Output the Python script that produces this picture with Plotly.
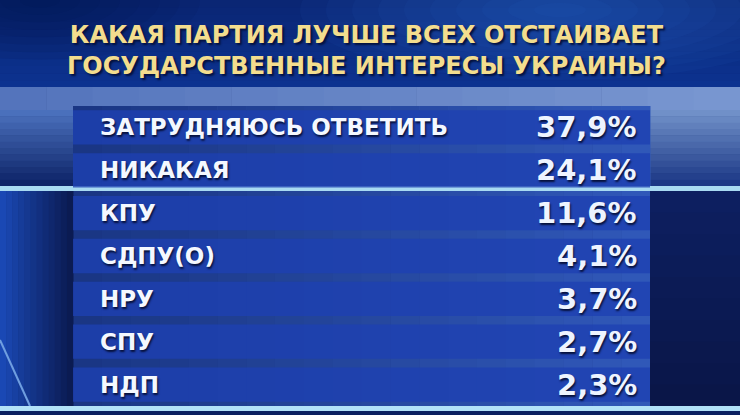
import plotly.graph_objects as go

# poll question and answers
title = "КАКАЯ ПАРТИЯ ЛУЧШЕ ВСЕХ ОТСТАИВАЕТ<br>ГОСУДАРСТВЕННЫЕ ИНТЕРЕСЫ УКРАИНЫ?"
answers = ["ЗАТРУДНЯЮСЬ ОТВЕТИТЬ", "НИКАКАЯ", "КПУ", "СДПУ(О)", "НРУ", "СПУ", "НДП"]
percents = [37.9, 24.1, 11.6, 4.1, 3.7, 2.7, 2.3]
value_labels = ["37,9%", "24,1%", "11,6%", "4,1%", "3,7%", "2,7%", "2,3%"]

FONT = "DejaVu Sans, Liberation Sans, Arial"

W, H = 740, 415
ML, MR, MT, MB = 73, 90, 106, 9


def fx(px):
    # page pixel -> paper fraction (x)
    return (px - ML) / (W - ML - MR)


def fy(py):
    # page pixel -> paper fraction (y)
    return (H - MB - py) / (H - MT - MB)


def box(x0, y0, x1, y1, color, opacity=1.0, kind="rect"):
    return dict(type=kind, xref="paper", yref="paper", layer="below",
                x0=fx(x0), x1=fx(x1), y0=fy(y1), y1=fy(y0),
                fillcolor=color, opacity=opacity, line=dict(width=0))


def mix(c1, c2, t):
    a = [int(c1[i:i + 2], 16) for i in (1, 3, 5)]
    b = [int(c2[i:i + 2], 16) for i in (1, 3, 5)]
    return "#%02x%02x%02x" % tuple(round(a[k] + (b[k] - a[k]) * t) for k in range(3))


def vgrad(x0, x1, y0, y1, c0, c1, n=16):
    step = (y1 - y0) / n
    return [box(x0, y0 + i * step, x1, y0 + (i + 1) * step + 0.5,
                mix(c0, c1, i / (n - 1))) for i in range(n)]


def hgrad(x0, x1, y0, y1, c0, c1, n=16):
    step = (x1 - x0) / n
    return [box(x0 + i * step, y0, x0 + (i + 1) * step + 0.5, y1,
                mix(c0, c1, i / (n - 1))) for i in range(n)]


def glow(cx, cy, rx, ry, color, n=10, opacity=0.06):
    # soft blob made of stacked translucent ellipses
    out = []
    for i in range(n):
        k = 1 - i / n
        out.append(box(cx - rx * k, cy - ry * k, cx + rx * k, cy + ry * k,
                       color, opacity, "circle"))
    return out


fig = go.Figure()

# each answer is one full-width table row
fig.add_trace(go.Bar(
    y=answers,
    x=[1] * len(answers),
    orientation="h",
    marker=dict(color="#1e40b2", opacity=0.78, line=dict(width=0)),
    hoverinfo="skip",
    showlegend=False,
))

annotations = []
for name, label in zip(answers, value_labels):
    annotations.append(dict(
        x=0, y=name, xref="x", yref="y", text=name, showarrow=False,
        xanchor="left", xshift=25,
        font=dict(family=FONT, size=23, color="#f4f8ff", weight="bold",
                  shadow="1px 2px 2px #06103a"),
    ))
    annotations.append(dict(
        x=1, y=name, xref="x", yref="y", text=label, showarrow=False,
        xanchor="right", xshift=-11,
        font=dict(family=FONT, size=29, color="#eef4ff", weight="bold",
                  shadow="1px 2px 2px #06103a"),
    ))

annotations.append(dict(
    x=fx(366), y=fy(51), xref="paper", yref="paper", text=title,
    showarrow=False, xanchor="center", yanchor="middle", borderpad=0,
    font=dict(family=FONT, size=24, color="#f3dd8e", weight="bold",
              shadow="2px 2px 2px #04123f"),
))

# background decoration
shapes = []
shapes += vgrad(0, 740, 0, 88, "#0a2674", "#0c3290", 12)
shapes += glow(560, 10, 260, 70, "#3a78e0", 10, 0.06)
shapes += glow(40, 0, 160, 60, "#04114a", 8, 0.09)
shapes += hgrad(0, 740, 87, 110, "#5474bc", "#7896d0", 16)
shapes += vgrad(0, 73, 110, 186, "#4a70bc", "#0e2468", 12)
shapes += vgrad(650, 740, 110, 186, "#7090c8", "#1c3886", 12)
shapes += hgrad(73, 650, 106, 406, "#1a3684", "#3058b8", 20)
shapes += hgrad(0, 73, 191, 406, "#1a48b4", "#0b1b52", 12)
shapes += vgrad(650, 740, 191, 406, "#0d1f60", "#0a1648", 10)
shapes.append(dict(type="line", xref="paper", yref="paper", layer="below",
                   x0=fx(0), y0=fy(340), x1=fx(30), y1=fy(406),
                   line=dict(color="#6f9ee0", width=2)))
shapes.append(box(0, 186, 740, 191, "#a8daf2"))
shapes.append(box(0, 406, 740, 411, "#b2e2f8"))
shapes.append(box(0, 411, 740, 415, "#0a2060"))

fig.update_layout(
    width=W, height=H,
    margin=dict(l=ML, r=MR, t=MT, b=MB),
    paper_bgcolor="#0b1f62",
    plot_bgcolor="rgba(0,0,0,0)",
    bargap=0.2,
    xaxis=dict(range=[0, 1], visible=False, fixedrange=True),
    yaxis=dict(autorange="reversed", visible=False, fixedrange=True),
    annotations=annotations,
    shapes=shapes,
)

fig.write_html("out.html", config={"displayModeBar": False},
               post_script="document.body.style.margin='0';")
